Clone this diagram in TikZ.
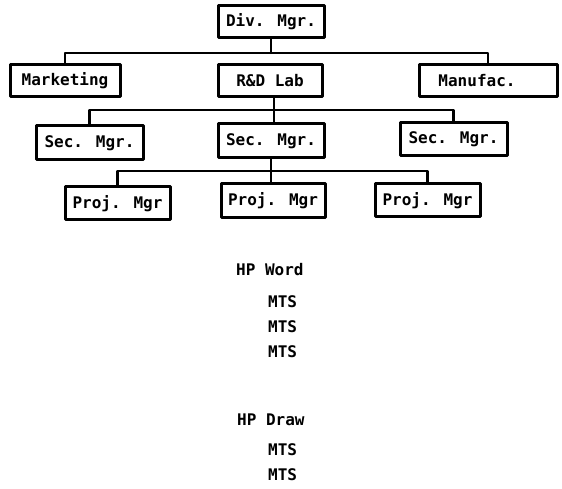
\documentclass[tikz,border=0pt]{standalone}
\usepackage{fontspec}
\newfontfamily\chartfont{DejaVu Sans Mono}
\usetikzlibrary{positioning}

\tikzset{
  orgbox/.style={draw, line width=3pt, inner sep=0pt, minimum height=32,
    font=\chartfont\bfseries\fontsize{16}{19}\selectfont},
  bus/.style={line width=2.2pt},
  plain/.style={anchor=west, inner sep=0pt,
    font=\chartfont\bfseries\fontsize{16}{19}\selectfont}
}

\begin{document}
\begin{tikzpicture}[x=1pt, y=-1pt, line cap=round, line join=round]

  % ── 画布 ──
  \path[use as bounding box] (0,0) rectangle (562,489);

  % ── 第一层 ──
  \node[orgbox, minimum width=106] (div) at (271,22) {Div. Mgr.};

  % ── 第二层 ──
  \node[orgbox, minimum width=110] (mkt) at (65,80.5) {Marketing};
  \node[orgbox, minimum width=104] (rd)  at (270,80.5) {R\&D Lab};
  \node[orgbox, minimum width=138] (man) at (488,80.5) {Manufac.\hspace*{22pt}\rule{0pt}{1pt}};

  % ── 第三层 ──
  \node[orgbox, minimum width=107, minimum height=34] (secl) at (89.5,143) {Sec. Mgr.};
  \node[orgbox, minimum width=106, minimum height=34] (secm) at (271,141) {Sec. Mgr.};
  \node[orgbox, minimum width=107, minimum height=33] (secr) at (453.5,139.5) {Sec. Mgr.};

  % ── 第四层 ──
  \node[orgbox, minimum width=105, minimum height=33] (projl) at (117.5,203.5) {Proj. Mgr};
  \node[orgbox, minimum width=104, minimum height=34] (projm) at (273,201) {Proj. Mgr};
  \node[orgbox, minimum width=105, minimum height=33] (projr) at (427.5,200.5) {Proj. Mgr};

  % ── 连线（横线高度）──
  \coordinate (busa) at (271,53);
  \coordinate (busb) at (274,110);
  \coordinate (busc) at (273,171);

  \draw[bus] (div.south) -- (busa);
  \draw[bus] (mkt.north) |- (busa) -| (man.north);
  \draw[bus] (busb |- rd.south) -- (busb |- secm.north);
  \draw[bus] (secl.north) |- (busb) -| (secr.north);
  \draw[bus] (secm.south) -- (secm.south |- projm.north);
  \draw[bus] (projl.north) |- (busc) -| (projr.north);

  % ── 下方文字 ──
  \node[plain] (hpw) at (236,270) {HP Word};
  \foreach \y/\nm in {302/mtsa, 327/mtsb, 352/mtsc}
    \node[plain] (\nm) at (268,\y) {MTS};
  \node[plain] (hpd) at (237,420) {HP Draw};
  \foreach \y/\nm in {450/mtsd, 475/mtse}
    \node[plain] (\nm) at (268,\y) {MTS};

\end{tikzpicture}
\end{document}
